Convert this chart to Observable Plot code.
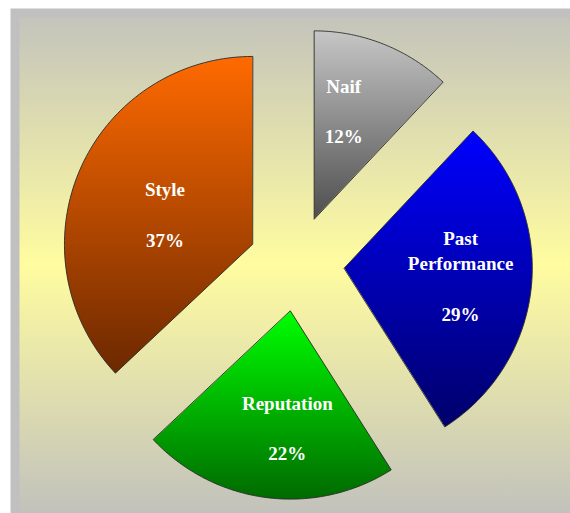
<!DOCTYPE html>
<html><head><meta charset="utf-8">
<script src="https://cdn.jsdelivr.net/npm/d3@7"></script>
<script src="https://cdn.jsdelivr.net/npm/@observablehq/plot@0.6"></script>
<style>html,body{margin:0;padding:0;background:#fff} svg{display:block}</style>
</head><body><div id="chart"></div>
<script>
// ---- data ----
const categories = ["Naif", "Past Performance", "Reputation", "Style"];
const categoryLabels = ["Naif", "Past\nPerformance", "Reputation", "Style"];
const values = [12, 29, 22, 37];
const percentLabels = ["12%", "29%", "22%", "37%"];

// ---- style / layout ----
const gradTop = ["#c6c6c6", "#0000ff", "#00ff00", "#ff6a00"];
const gradBottom = ["#4e4e4e", "#00006a", "#006a00", "#6c2800"];
const W = 570, H = 513;
const cx = 296, cy = 263, R = 188, explode = 48;
const labelDist = 0.6;                       // fraction of radius from slice apex
const labelShift = [[-12, -4], [4, -4], [11, 4], [16, 14]];

const arcs = d3.pie().sort(null).value(d => d)(values);

const slices = arcs.map((a, i) => {
  const mid = (a.startAngle + a.endAngle) / 2;
  const ax = cx + explode * Math.sin(mid), ay = cy - explode * Math.cos(mid);
  const pts = [{x: ax, y: ay}];
  const n = 90;
  for (let k = 0; k <= n; k++) {
    const t = a.startAngle + (a.endAngle - a.startAngle) * k / n;
    pts.push({x: ax + R * Math.sin(t), y: ay - R * Math.cos(t)});
  }
  return {i, mid, ax, ay, pts};
});

const labelData = slices.map(s => ({
  x: s.ax + labelDist * R * Math.sin(s.mid) + labelShift[s.i][0],
  y: s.ay - labelDist * R * Math.cos(s.mid) + labelShift[s.i][1],
  text: categoryLabels[s.i] + "\n\n" + percentLabels[s.i]
}));

const defsMark = () => {
  const defs = d3.create("svg:defs");
  const bg = defs.append("linearGradient").attr("id", "bg").attr("x1", 0).attr("y1", 0).attr("x2", 0).attr("y2", 1);
  bg.append("stop").attr("offset", "0%").attr("stop-color", "#c4c4bc");
  bg.append("stop").attr("offset", "50%").attr("stop-color", "#fffca0");
  bg.append("stop").attr("offset", "100%").attr("stop-color", "#c2c2bc");
  categories.forEach((c, i) => {
    const g = defs.append("linearGradient").attr("id", "g" + i).attr("x1", 0).attr("y1", 0).attr("x2", 0).attr("y2", 1);
    g.append("stop").attr("offset", "0%").attr("stop-color", gradTop[i]);
    g.append("stop").attr("offset", "100%").attr("stop-color", gradBottom[i]);
  });
  return defs.node();
};

const chart = Plot.plot({
  width: W, height: H,
  margin: 0,
  x: {domain: [0, W], range: [0, W], axis: null},
  y: {domain: [0, H], range: [0, H], axis: null},
  marks: [
    defsMark,
    Plot.frame({fill: "#c0c0c0", stroke: "none", insetLeft: 10, insetTop: 8}),
    Plot.frame({fill: "url(#bg)", stroke: "none", insetLeft: 19, insetTop: 17, insetBottom: 2}),
    ...slices.map(s => Plot.line(s.pts, {
      x: "x", y: "y", curve: "linear-closed",
      fill: "url(#g" + s.i + ")", stroke: "#2a2a2a", strokeWidth: 0.9, strokeLinejoin: "miter"
    })),
    Plot.text(labelData, {
      x: "x", y: "y", text: "text",
      fill: "white", fontFamily: "Liberation Serif", fontWeight: "bold", fontSize: 19,
      lineHeight: 1.33, lineAnchor: "middle", textAnchor: "middle"
    })
  ]
});
document.getElementById("chart").appendChild(chart);
</script>
</body></html>
